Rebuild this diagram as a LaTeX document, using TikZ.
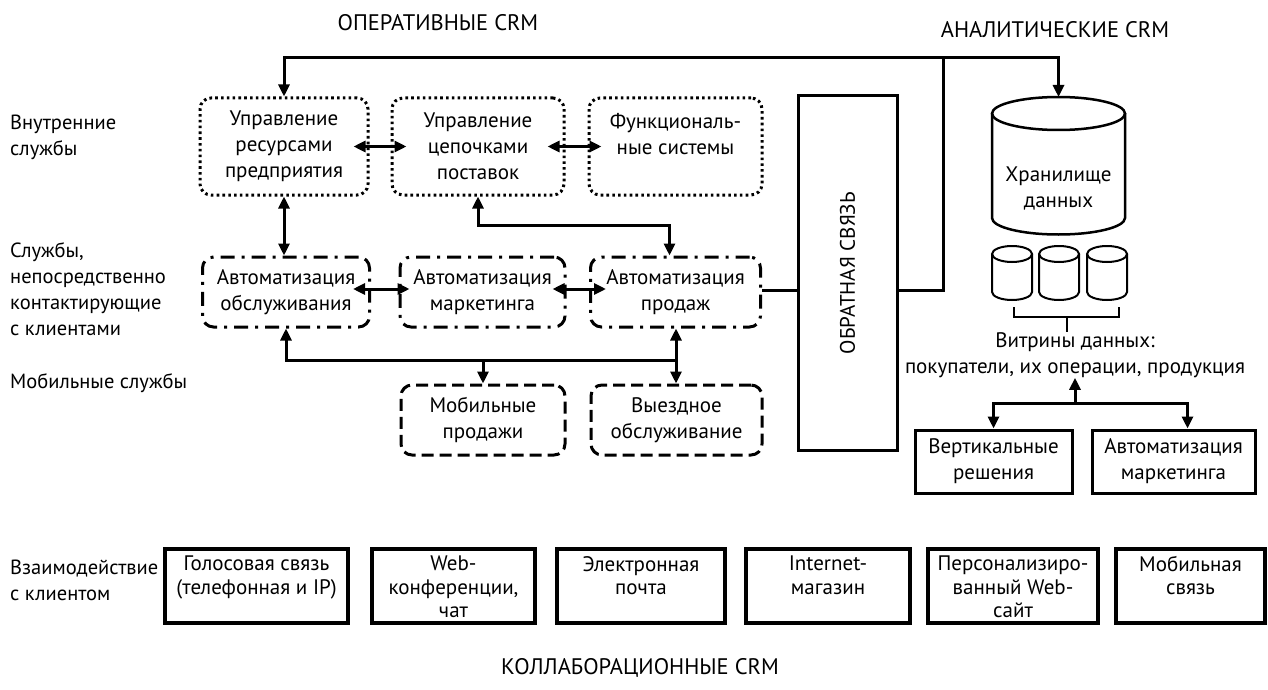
\documentclass[tikz,border=0pt]{standalone}
\usepackage{fontspec}
\setmainfont{PT Sans}
\usetikzlibrary{arrows.meta}

\begin{document}
\begin{tikzpicture}[x=1pt,y=-1pt,
  every node/.style={font=\fontsize{21}{26}\selectfont, inner sep=0pt},
  conn/.style={line width=3pt},
  tip/.tip={Triangle[length=12pt,width=11pt]},
  arr/.style={conn,-tip},
  darr/.style={conn,tip-tip},
  dotbox/.style={draw, line width=3pt, dash pattern=on 2.6pt off 3.2pt,
    rounded corners=11pt, minimum height=97pt, align=center},
  dashdotbox/.style={draw, line width=3pt, dash pattern=on 14pt off 7pt on 3pt off 7pt,
    rounded corners=11pt, minimum height=70pt, align=center},
  dashbox/.style={draw, line width=3pt, dash pattern=on 12pt off 6pt,
    rounded corners=11pt, minimum height=70pt, align=center},
  solidbox/.style={draw, line width=3pt, minimum height=63pt, align=center},
  chanbox/.style={draw, line width=4pt, minimum height=74pt},
  chantext/.style={anchor=north, align=center, font=\fontsize{21}{23.5}\selectfont},
  lbl/.style={anchor=west, align=left, font=\fontsize{20.5}{26}\selectfont},
  ttl/.style={font=\fontsize{22.5}{26}\selectfont},
  db/.style={line width=2.5pt},
  mart/.style={line width=2pt}
]
\useasboundingbox (0,0) rectangle (1268,690);

% group titles
\node[ttl] (tOper) at (438,23) {ОПЕРАТИВНЫЕ CRM};
\node[ttl] (tAnal) at (1055,30) {АНАЛИТИЧЕСКИЕ CRM};
\node[ttl] (tColl) at (640,668) {КОЛЛАБОРАЦИОННЫЕ CRM};

% row labels
\node[lbl] (lInt) at (10,137.5) {Внутренние\\службы};
\node[lbl] (lCont) at (10,289) {Службы,\\непосредственно\\контактирующие\\с клиентами};
\node[lbl] (lMob) at (10,383) {Мобильные службы};
\node[lbl] (lInter) at (10,580) {Взаимодействие\\с клиентом};

% internal services
\node[dotbox, minimum width=168pt] (erp) at (284,146.5) {Управление\\ресурсами\\предприятия};
\node[dotbox, minimum width=172pt] (scm) at (478,146.5) {Управление\\цепочками\\поставок};
\node[dotbox, minimum width=173pt] (func) at (675.5,146.5) {Функциональ-\\ные системы\\\mbox{}};

% customer-facing services
\node[dashdotbox, minimum width=167pt] (svc) at (286,292) {Автоматизация\\обслуживания};
\node[dashdotbox, minimum width=165pt] (mkt) at (482.5,292) {Автоматизация\\маркетинга};
\node[dashdotbox, minimum width=170pt] (sales) at (675.5,292) {Автоматизация\\продаж};

% mobile services
\node[dashbox, minimum width=164pt] (msales) at (483,420) {Мобильные\\продажи};
\node[dashbox, minimum width=171pt] (field) at (676.5,420) {Выездное\\обслуживание};

% feedback column
\node[draw, line width=3pt, minimum width=99pt, minimum height=355pt] (fb) at (847.5,273) {};
\node[rotate=90] (fbText) at (fb.center) {ОБРАТНАЯ СВЯЗЬ};

% data warehouse
\draw[db] (1058.5,113.5) ellipse [x radius=66.5, y radius=16.5];
\draw[db] (992,113.5) -- (992,218) arc[start angle=180, end angle=0, x radius=66.5, y radius=16.5] -- (1125,113.5);
\coordinate (whTop) at (1058.5,97);
\node[align=center] (whText) at (1058.5,188.5) {Хранилище\\данных};

% data marts
\foreach \cx in {1012,1059,1107} {
  \draw[mart] (\cx,254) ellipse [x radius=20, y radius=8];
  \draw[mart] (\cx-20,254) -- (\cx-20,292) arc[start angle=180, end angle=0, x radius=20, y radius=8] -- (\cx+20,254);
}
\draw[mart] (1014,307) -- (1014,317) -- (1119,317) -- (1119,307);
\coordinate (brTop) at (1067,317);
\node[align=center] (marts) at (1075,355) {Витрины данных:\\покупатели, их операции, продукция};
\draw[mart] (brTop) -- (marts.north -| brTop);

% analytic applications
\node[solidbox, minimum width=157pt] (vert) at (993.5,461.5) {Вертикальные\\решения};
\node[solidbox, minimum width=163pt] (amkt) at (1173.5,461.5) {Автоматизация\\маркетинга};

% interaction channels
\node[chanbox, minimum width=183pt] (ch1) at (256.5,586) {};
\node[chanbox, minimum width=163pt] (ch2) at (453.5,586) {};
\node[chanbox, minimum width=168pt] (ch3) at (641,586) {};
\node[chanbox, minimum width=164pt] (ch4) at (828,586) {};
\node[chanbox, minimum width=170pt] (ch5) at (1013,586) {};
\node[chanbox, minimum width=149pt] (ch6) at (1190.5,586) {};
\node[chantext] (ch1t) at ([yshift=-9pt]ch1.north) {Голосовая связь\\(телефонная и IP)};
\node[chantext] (ch2t) at ([yshift=-9pt]ch2.north) {Web-\\конференции,\\чат};
\node[chantext] (ch3t) at ([yshift=-9pt]ch3.north) {Электронная\\почта};
\node[chantext] (ch4t) at ([yshift=-9pt]ch4.north) {Internet-\\магазин};
\node[chantext] (ch5t) at ([yshift=-9pt]ch5.north) {Персонализиро-\\ванный Web-\\сайт};
\node[chantext] (ch6t) at ([yshift=-9pt]ch6.north) {Мобильная\\связь};

% connectors: top bus
\coordinate (bus) at (943,58);
\draw[arr] (bus) -| (erp.north);
\draw[arr] (bus) -| (whTop);
\draw[conn] (bus) |- (fb.east |- 0,290);
\draw[conn] (sales.east |- 0,290) -- (fb.west |- 0,290);

% connectors: internal services
\draw[darr] ([xshift=-16pt]erp.east) -- ([xshift=16pt]scm.west);
\draw[darr] ([xshift=-18pt]scm.east) -- ([xshift=14pt]func.west);
\draw[darr] (erp.south) -- (erp.south |- svc.north);
\draw[darr] (scm.south) -- (scm.south |- 0,225) -| ([xshift=-6pt]sales.north);

% connectors: customer-facing services
\draw[darr] ([xshift=-18pt]svc.east |- 0,289) -- ([xshift=11pt]mkt.west |- 0,289);
\draw[darr] ([xshift=-14pt]mkt.east |- 0,289) -- ([xshift=17pt]sales.west |- 0,289);

% connectors: mobile services
\coordinate (mbus) at (676,360);
\draw[darr] (sales.south -| mbus) -- (field.north -| mbus);
\draw[arr] (mbus) -| (svc.south);
\draw[arr] (msales.north |- mbus) -- (msales.north);

% connectors: analytic applications
\coordinate (abus) at (1075,403);
\draw[arr] (abus) -- (marts.south -| abus);
\draw[arr] (abus) -| (vert.north);
\draw[arr] (abus) -| ([xshift=14pt]amkt.north);
\end{tikzpicture}
\end{document}
